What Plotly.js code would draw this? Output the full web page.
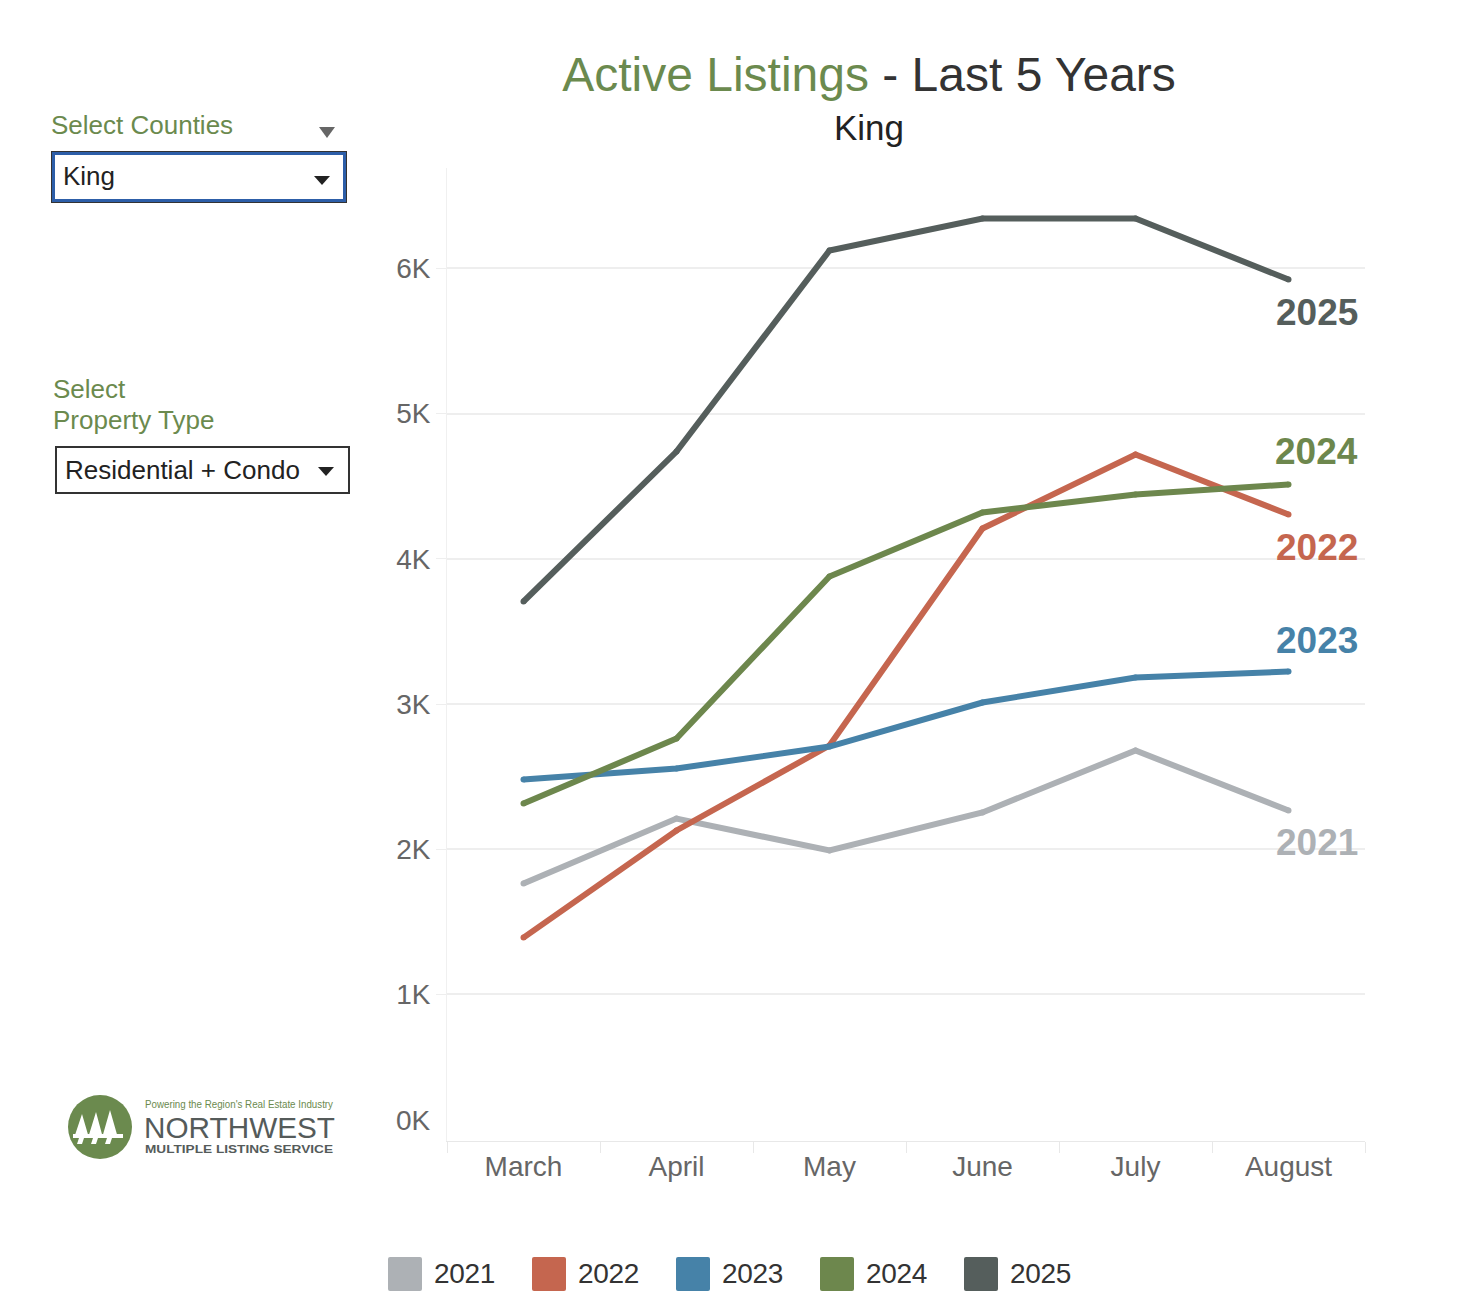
<!DOCTYPE html>
<html>
<head>
<meta charset="utf-8">
<script src="https://cdn.plot.ly/plotly-3.0.1.min.js"></script>
<style>
  html, body { margin: 0; padding: 0; background: #fff; }
  body { width: 1468px; height: 1302px; position: relative; overflow: hidden; font-family: "Liberation Sans", Arial, sans-serif; }
  #chart { position: absolute; left: 0; top: 0; width: 1468px; height: 1302px; }
  .lbl { position: absolute; color: #6b8a4e; font-size: 26px; line-height: 31px; }
  .box { position: absolute; background: #fff; box-sizing: border-box; color: #222; font-size: 26px; }
  .tri { position: absolute; width: 0; height: 0; border-left: 8px solid transparent; border-right: 8px solid transparent; }
  #legend { position: absolute; left: 388px; top: 1257px; display: flex; }
  .li { display: flex; align-items: center; width: 144px; }
  .sw { width: 34px; height: 34px; border-radius: 2px; margin-right: 12px; }
  .lt { font-size: 28px; color: #333; letter-spacing: -0.3px; }
</style>
</head>
<body>
<div id="chart"></div>

<div class="lbl" style="left:51px; top:110px;">Select Counties</div>
<div class="tri" style="left:319px; top:127px; border-top:11px solid #666;"></div>
<div class="box" style="left:52px; top:152px; width:294px; height:50px; border:3px solid #2d5ea8; box-shadow:0 0 0 1px #333;">
  <span style="position:absolute; left:8px; top:6px;">King</span>
</div>
<div class="tri" style="left:314px; top:176px; border-top:9px solid #222;"></div>

<div class="lbl" style="left:53px; top:374px;">Select<br>Property Type</div>
<div class="box" style="left:55px; top:446px; width:295px; height:48px; border:2px solid #333;">
  <span style="position:absolute; left:8px; top:7px;">Residential + Condo</span>
</div>
<div class="tri" style="left:318px; top:467px; border-top:9px solid #222;"></div>

<svg style="position:absolute; left:60px; top:1090px;" width="300" height="80" viewBox="0 0 300 80">
  <circle cx="40" cy="37" r="32" fill="#6b8a4e"/>
  <g fill="#fff">
    <polygon points="22,24 14,48 19,48 17,54 22,54 24,48 29,48"/>
    <polygon points="36,22 28,48 33,48 31,54 36,54 38,48 43,48"/>
    <polygon points="50,20 42,48 47,48 45,54 50,54 52,48 58,48"/>
    <rect x="13" y="44" width="50" height="4"/>
  </g>
  <text x="85" y="18" font-family="Liberation Sans, Arial" font-size="10" fill="#6b8a4e" textLength="188" lengthAdjust="spacingAndGlyphs">Powering the Region's Real Estate Industry</text>
  <text x="84" y="48" font-family="Liberation Sans, Arial" font-size="29" fill="#555b5a" textLength="191" lengthAdjust="spacingAndGlyphs">NORTHWEST</text>
  <text x="85" y="63" font-family="Liberation Sans, Arial" font-size="11" font-weight="bold" fill="#555b5a" textLength="188" lengthAdjust="spacingAndGlyphs">MULTIPLE LISTING SERVICE</text>
</svg>

<div id="legend"></div>

<script>
// ---- data ----
const months = ["March", "April", "May", "June", "July", "August"];
const years = ["2021", "2022", "2023", "2024", "2025"];
const y2021 = [1763, 2211, 1991, 2253, 2680, 2266];
const y2022 = [1391, 2129, 2714, 4209, 4719, 4305];
const y2023 = [2480, 2556, 2707, 3010, 3182, 3224];
const y2024 = [2315, 2762, 3878, 4319, 4443, 4512];
const y2025 = [3706, 4739, 6124, 6344, 6344, 5924];
const yTickVals = [1000, 2000, 3000, 4000, 5000, 6000];
const yTickText = ["1K", "2K", "3K", "4K", "5K", "6K"];

// ---- styles ----
const colors = { "2021": "#adb1b5", "2022": "#c5664f", "2023": "#4682a8", "2024": "#6d874d", "2025": "#555e5c" };
const labelShift = { "2021": -32, "2022": -33, "2023": 31, "2024": 33, "2025": -33 };
const series = { "2021": y2021, "2022": y2022, "2023": y2023, "2024": y2024, "2025": y2025 };

const traces = years.map(yr => ({
  type: "scatter", mode: "lines+markers", name: yr,
  x: months, y: series[yr],
  line: { color: colors[yr], width: 6 },
  marker: { color: colors[yr], size: 6, line: { width: 0 } },
  showlegend: false, hoverinfo: "x+y+name"
}));

const endLabels = years.map(yr => ({
  xref: "x", yref: "y", x: months[months.length - 1], y: series[yr][series[yr].length - 1],
  text: "<b>" + yr + "</b>", showarrow: false, xshift: 28, yshift: labelShift[yr],
  font: { family: "Liberation Sans, Arial, sans-serif", size: 37, color: colors[yr] }
}));

const layout = {
  width: 1468, height: 1302,
  margin: { l: 447, r: 103, t: 168, b: 161 },
  paper_bgcolor: "#fff", plot_bgcolor: "#fff",
  font: { family: "Liberation Sans, Arial, sans-serif", color: "#666" },
  title: {
    text: '<span style="color:#6b8a4e">Active Listings</span> - Last 5 Years',
    font: { size: 48, color: "#333" },
    xref: "container", x: 869 / 1468, xanchor: "center",
    yref: "container", y: 1 - 74 / 1302, yanchor: "middle"
  },
  xaxis: {
    type: "category", range: [-0.5, 5.5], fixedrange: true,
    tickson: "boundaries", ticks: "outside", ticklen: 11, tickcolor: "#e8e8e8", tickwidth: 1,
    showline: true, linecolor: "#e8e8e8", linewidth: 1,
    showgrid: false, zeroline: false,
    tickfont: { size: 28, color: "#666" }
  },
  yaxis: {
    range: [-10, 6692], fixedrange: true,
    tickvals: yTickVals, ticktext: yTickText,
    ticks: "outside", ticklen: 10, tickcolor: "#eeeeee",
    showgrid: true, gridcolor: "#eeeeee", gridwidth: 2,
    showline: true, linecolor: "#f0f0f0", linewidth: 1,
    zeroline: false,
    tickfont: { size: 28, color: "#666" }
  },
  annotations: [
    { xref: "paper", yref: "paper", x: (869 - 447) / 918, y: (1141 - 127) / 973, text: "King",
      showarrow: false, xanchor: "center", yanchor: "middle", font: { size: 35, color: "#222" } },
    { xref: "paper", yref: "y", x: 0, y: 0, text: "0K", showarrow: false, xanchor: "right",
      xshift: -14, yshift: 19, font: { size: 28, color: "#666" } }
  ].concat(endLabels)
};

Plotly.newPlot("chart", traces, layout, { displayModeBar: false, staticPlot: true });

// legend built from the same year/colour lists
const leg = document.getElementById("legend");
years.forEach(yr => {
  const item = document.createElement("div"); item.className = "li";
  const sw = document.createElement("div"); sw.className = "sw"; sw.style.background = colors[yr];
  const t = document.createElement("span"); t.className = "lt"; t.textContent = yr;
  item.appendChild(sw); item.appendChild(t); leg.appendChild(item);
});
</script>
</body>
</html>
